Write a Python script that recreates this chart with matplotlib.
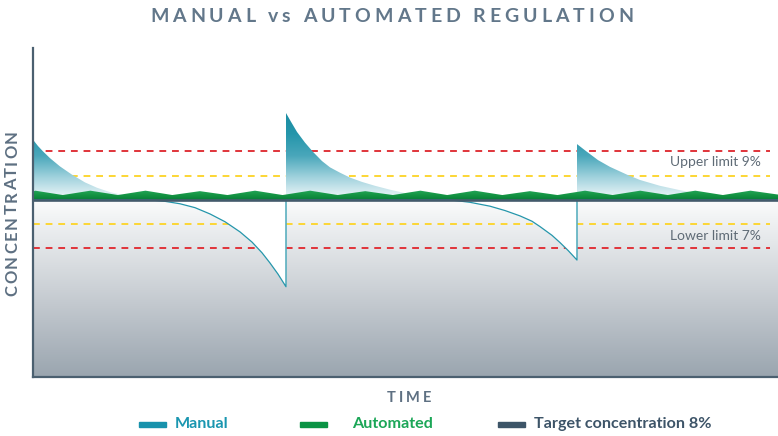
import numpy as np
import matplotlib
matplotlib.use("Agg")
import matplotlib.pyplot as plt
from matplotlib.colors import LinearSegmentedColormap
from matplotlib.patches import Rectangle

# time in arbitrary units (0-100), concentration in %
manual_t = [0.0, 0.67, 1.34, 2.28, 3.62, 5.23, 6.98, 8.59, 10.34, 12.35, 14.36, 15.70,
            17.72, 19.73, 21.74, 23.76, 25.77, 27.79, 29.40, 30.74, 31.81, 32.89, 33.96,
            33.96, 34.63, 35.44, 36.51, 37.58, 38.79, 39.87, 41.21, 42.55, 44.16, 45.91,
            47.92, 49.93, 51.95, 53.96, 55.97,
            58.66, 61.34, 63.36, 65.37, 66.98, 68.05, 69.66, 70.74, 71.81, 73.02,
            73.02, 73.69, 74.36, 75.84, 77.45, 79.73, 81.48, 84.16, 86.85, 89.53, 92.21,
            95.57, 100.0]
manual_c = [9.24, 9.11, 9.00, 8.86, 8.69, 8.52, 8.36, 8.25, 8.16, 8.09, 8.03, 8.00,
            7.97, 7.92, 7.84, 7.71, 7.55, 7.34, 7.13, 6.91, 6.70, 6.47, 6.21,
            9.79, 9.61, 9.40, 9.18, 8.99, 8.80, 8.67, 8.56, 8.46, 8.37, 8.29,
            8.21, 8.14, 8.08, 8.03, 8.00,
            7.95, 7.87, 7.78, 7.67, 7.56, 7.45, 7.27, 7.12, 6.96, 6.76,
            9.15, 9.07, 8.99, 8.82, 8.68, 8.52, 8.41, 8.29, 8.20, 8.12, 8.06,
            8.02, 8.00]

auto_t = [0.0, 0.3, 4.0, 7.7, 11.4, 15.1, 18.7, 22.4, 26.1, 29.8, 33.5, 37.2, 40.9, 44.6,
          48.3, 52.0, 55.6, 59.3, 63.0, 66.7, 70.4, 74.1, 77.8, 81.5, 85.2, 88.9, 92.6,
          96.3, 100.0]
auto_c = [8.17, 8.19, 8.10, 8.19, 8.10, 8.19, 8.10, 8.18, 8.10, 8.19, 8.10, 8.19, 8.10, 8.18,
          8.10, 8.19, 8.10, 8.19, 8.10, 8.18, 8.10, 8.19, 8.10, 8.19, 8.10, 8.19, 8.10,
          8.19, 8.11]

target = 8.0
upper_limit = 9.0
lower_limit = 7.0
upper_warn = 8.5
lower_warn = 7.5

t = np.array(manual_t)
c = np.array(manual_c)
y_bottom, y_top = 4.35, 11.13

fig = plt.figure(figsize=(7.78, 4.36), dpi=100)
ax = fig.add_axes([33 / 778, 59 / 436, 745 / 778, 329 / 436])
ax.set_facecolor("white")


def gradient_fill(x, y1, y2, lo, hi, colors, z):
    poly = ax.fill_between(x, y1, y2, facecolor="none", edgecolor="none")
    cmap = LinearSegmentedColormap.from_list("g", colors)
    grad = np.linspace(0, 1, 256).reshape(-1, 1)
    im = ax.imshow(grad, cmap=cmap, extent=[0, 100, lo, hi], origin="lower",
                   aspect="auto", zorder=z, interpolation="bilinear")
    im.set_clip_path(poly.get_paths()[0], transform=ax.transData)


# grey background below target
gradient_fill(t, y_bottom, np.minimum(c, target), y_bottom, target,
              ["#9aa5af", "#ccd1d6", "#fbfcfc"], 1)

# limit lines
for lvl, col in [(upper_limit, "#e0343a"), (lower_limit, "#e0343a"),
                 (upper_warn, "#fcd634"), (lower_warn, "#fcd634")]:
    ax.plot([0, 98.9], [lvl, lvl], color=col, lw=1.4, dashes=(3.5, 3), zorder=2)

# white gap between manual curve and target
ax.fill_between(t, np.minimum(c, target), target, color="white", lw=0, zorder=3)

# manual overshoot (teal gradient)
gradient_fill(t, target, np.maximum(c, target), target, 9.8,
              ["#f4fafb", "#a3d3de", "#4aa7bb", "#2596ab", "#1a8ca2"], 3)

# automated band
gradient_fill(auto_t, target, auto_c, target, 8.19, ["#087d38", "#149443", "#25a55a"], 4)

# manual line below target
ax.plot(t, np.minimum(c, target), color="#2596ab", lw=0.9, zorder=4.5)

# target line
ax.plot([0, 100], [target, target], color="#435a6b", lw=1.9, zorder=5)

ax.text(85.5, 8.78, "Upper limit 9%", fontsize=10, color="#5f6b76", family="Lato",
        va="center", ha="left", zorder=6)
ax.text(85.5, 7.26, "Lower limit 7%", fontsize=10, color="#5f6b76", family="Lato",
        va="center", ha="left", zorder=6)

ax.set_xlim(0, 100)
ax.set_ylim(y_bottom, y_top)
ax.set_xticks([])
ax.set_yticks([])
for s in ["top", "right"]:
    ax.spines[s].set_visible(False)
for s in ["left", "bottom"]:
    ax.spines[s].set_color("#4b6070")
    ax.spines[s].set_linewidth(1.6)
    ax.spines[s].set_zorder(7)

W, H = 778, 436
renderer = fig.canvas.get_renderer()


def spaced(s, x0, x1, y, rotation=0, **kw):
    # letter-spaced text between pixel positions x0..x1 (bottom-up if rotated)
    def width(txt):
        tt = fig.text(0, 0, txt + ".", **kw)
        w = tt.get_window_extent(renderer).width
        tt.remove()
        return w
    dot = width("")
    adv = [width(s[:i]) - dot for i in range(len(s) + 1)]
    gap = ((x1 - x0) - adv[-1]) / (len(s) - 1)
    for i, ch in enumerate(s):
        p = x0 + adv[i] + i * gap
        if rotation:
            fig.text(y / W, p / H, ch, rotation=90, ha="center", va="bottom", **kw)
        else:
            fig.text(p / W, 1 - y / H, ch, ha="left", va="center", **kw)


spaced("MANUAL vs AUTOMATED REGULATION", 150, 633, 16, fontsize=14,
       weight="bold", family="Lato", color="#62778a")
spaced("TIME", 387, 431, 398, fontsize=10.5, weight="bold", family="Lato", color="#5e7082")
spaced("CONCENTRATION", 436 - 296, 436 - 130, 12, rotation=90, fontsize=12,
       weight="bold", family="Lato", color="#5e7082")

# legend
legend_items = [("Manual", "#1892ac", "#1a96b0", 139, 175),
                ("Automated", "#0a9344", "#1ba657", 300, 352),
                ("Target concentration 8%", "#3d5568", "#3d5468", 498, 534)]
for label, pc, tc, px, tx in legend_items:
    fig.patches.append(Rectangle((px / W, 1 - 426.5 / H), 27 / W, 5 / H,
                                 transform=fig.transFigure, color=pc))
    fig.text(tx / W, 1 - 424 / H, label, fontsize=11.6, weight="bold", family="Lato",
             color=tc, va="center", ha="left")

fig.savefig("out.png", dpi=100)
